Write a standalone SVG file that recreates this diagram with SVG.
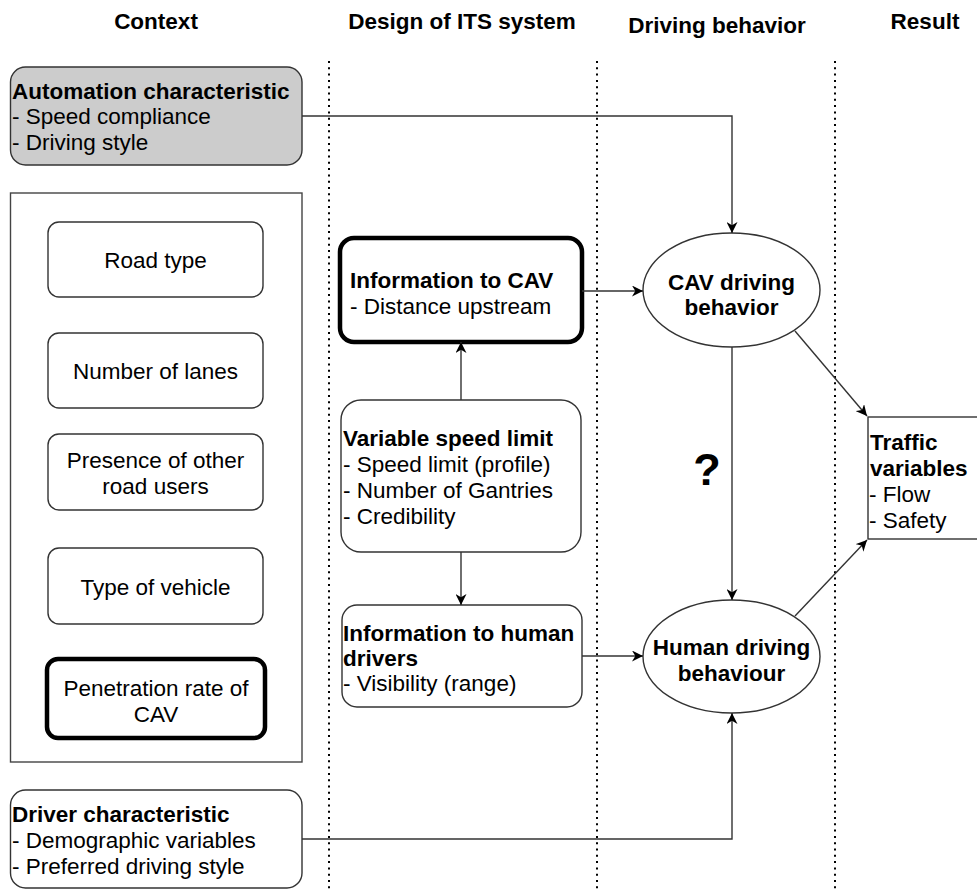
<svg xmlns="http://www.w3.org/2000/svg" width="977" height="890" viewBox="0 0 977 890">
<style>
text{font-family:"Liberation Sans",Arial,Helvetica,sans-serif;font-size:22.5px;fill:#000}
.b{font-weight:bold}
.c{text-anchor:middle}
.box{fill:#fff;stroke:#333;stroke-width:1.4}
.thick{fill:#fff;stroke:#000;stroke-width:4.5}
.gray{fill:#cccccc;stroke:#333;stroke-width:1.4}
.dot{stroke:#000;stroke-width:2;stroke-dasharray:2 4.3;fill:none}
.edge{fill:none;stroke:#333;stroke-width:1.4;marker-end:url(#arr)}
</style>
<defs>
<marker id="arr" markerUnits="userSpaceOnUse" markerWidth="11" markerHeight="11" refX="10" refY="5" orient="auto" viewBox="0 0 10 10">
<path d="M0,0 L10,5 L0,10 L3,5 Z" fill="#000"/>
</marker>
</defs>
<rect width="977" height="890" fill="#fff"/>
<g id="headers">
<text class="b c" x="156" y="29">Context</text>
<text class="b c" x="462" y="29">Design of ITS system</text>
<text class="b c" x="717" y="33">Driving behavior</text>
<text class="b c" x="925" y="29">Result</text>
</g>
<g id="separators">
<line class="dot" x1="329" y1="61" x2="329" y2="890"/>
<line class="dot" x1="597" y1="61" x2="597" y2="890"/>
<line class="dot" x1="835" y1="61" x2="835" y2="890"/>
</g>
<g id="automation">
<rect class="gray" x="10.5" y="67" width="291.5" height="98" rx="15"/>
<text class="b" x="12" y="99">Automation characteristic</text>
<text x="12" y="124">- Speed compliance</text>
<text x="12" y="150">- Driving style</text>
</g>
<g id="context-group">
<rect x="10.5" y="193" width="291.5" height="569" fill="#fff" stroke="#444" stroke-width="1.4"/>
</g>
<g id="road-type">
<rect class="box" x="48" y="222" width="215" height="75" rx="11"/>
<text class="c" x="155.5" y="268">Road type</text>
</g>
<g id="number-of-lanes">
<rect class="box" x="48" y="333" width="215" height="75" rx="11"/>
<text class="c" x="155.5" y="379">Number of lanes</text>
</g>
<g id="presence">
<rect class="box" x="48" y="434" width="215" height="76" rx="11"/>
<text class="c" x="155.5" y="468">Presence of other</text>
<text class="c" x="155.5" y="494">road users</text>
</g>
<g id="type-of-vehicle">
<rect class="box" x="48" y="548" width="215" height="76" rx="11"/>
<text class="c" x="155.5" y="595">Type of vehicle</text>
</g>
<g id="penetration">
<rect class="thick" x="47" y="659" width="218" height="79" rx="11"/>
<text class="c" x="156" y="696">Penetration rate of</text>
<text class="c" x="156" y="722">CAV</text>
</g>
<g id="driver">
<rect class="box" x="10.5" y="790" width="291.5" height="98" rx="15"/>
<text class="b" x="12" y="822">Driver characteristic</text>
<text x="12" y="848">- Demographic variables</text>
<text x="12" y="874">- Preferred driving style</text>
</g>
<g id="info-cav">
<rect class="thick" x="340" y="238" width="242" height="104" rx="14"/>
<text class="b" x="350" y="288">Information to CAV</text>
<text x="350" y="314">- Distance upstream</text>
</g>
<g id="vsl">
<rect class="box" x="341" y="400" width="240" height="152" rx="20"/>
<text class="b" x="343" y="446">Variable speed limit</text>
<text x="343" y="472">- Speed limit (profile)</text>
<text x="343" y="498">- Number of Gantries</text>
<text x="343" y="524">- Credibility</text>
</g>
<g id="info-human">
<rect class="box" x="342" y="605" width="240" height="102" rx="15"/>
<text class="b" x="343" y="641">Information to human</text>
<text class="b" x="343" y="666">drivers</text>
<text x="343" y="691">- Visibility (range)</text>
</g>
<g id="cav-behavior">
<ellipse class="box" cx="731.5" cy="290" rx="88.5" ry="57"/>
<text class="b c" x="731.5" y="290">CAV driving</text>
<text class="b c" x="731.5" y="315">behavior</text>
</g>
<g id="human-behavior">
<ellipse class="box" cx="731.5" cy="656.5" rx="88.5" ry="56.5"/>
<text class="b c" x="731.5" y="655">Human driving</text>
<text class="b c" x="731.5" y="681">behaviour</text>
</g>
<g id="traffic">
<rect class="box" x="868" y="417" width="115" height="122"/>
<text class="b" x="870" y="450">Traffic</text>
<text class="b" x="870" y="476">variables</text>
<text x="869" y="502">- Flow</text>
<text x="869" y="528">- Safety</text>
</g>
<g id="connectors">
<path class="edge" d="M302,116 H732 V233"/>
<path class="edge" d="M302,839 H732 V713"/>
<path class="edge" d="M582,291 H643"/>
<path class="edge" d="M582,656 H643"/>
<path class="edge" d="M461,400 V342"/>
<path class="edge" d="M461,552 V605"/>
<path class="edge" d="M732,347 V600"/>
<path class="edge" d="M795,331 L867,416"/>
<path class="edge" d="M795,616 L867,540"/>
<text class="b c" x="707" y="485" style="font-size:45px">?</text>
</g>
</svg>
